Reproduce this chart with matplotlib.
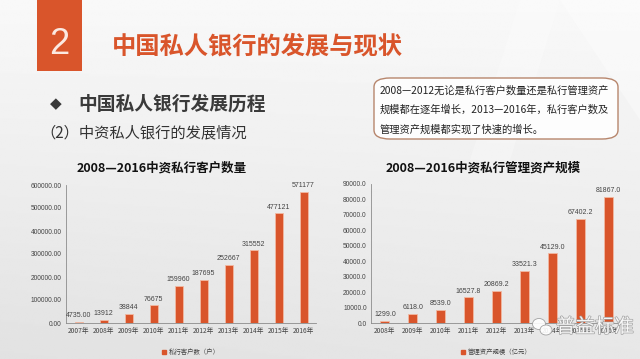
import matplotlib
matplotlib.use("Agg")
import matplotlib.pyplot as plt
import matplotlib.patheffects as pe
from matplotlib.patches import FancyBboxPatch, Rectangle, Polygon, Ellipse
import numpy as np

plt.rcParams['font.family'] = ['Noto Sans CJK SC', 'DejaVu Sans']

# data
cust_years = ["2007年", "2008年", "2009年", "2010年", "2011年", "2012年",
              "2013年", "2014年", "2015年", "2016年"]
cust_values = [4735, 13912, 38844, 76675, 159960, 187695, 252667, 315552, 477121, 571177]
asset_years = ["2008年", "2009年", "2010年", "2011年", "2012年", "2013年",
               "2014年", "2015年", "2016年"]
asset_values = [1299.0, 6118.0, 8539.0, 16527.8, 20869.2, 33521.3, 45129.0, 67402.2, 81867.0]

ORANGE = "#D9552B"
W, H = 640, 359

def fx(x):
    return x / W

def fy(y):
    return 1 - y / H

fig = plt.figure(figsize=(6.4, 3.59), dpi=100)

# background gradient
bg = fig.add_axes([0, 0, 1, 1])
bg.set_axis_off()
yy, xx = np.mgrid[0:1:200j, 0:1:300j]
img = 0.975 - 0.07 * yy - 0.02 * (1 - xx) * yy
bg.imshow(img, cmap="gray", vmin=0, vmax=1, extent=[0, 1, 0, 1], aspect="auto", origin="upper")
bg.add_patch(Polygon([[fx(560), 1], [fx(640), 1], [fx(640), fy(120)]],
                     closed=True, color="white", alpha=0.35, lw=0))
bg.add_patch(Polygon([[fx(470), fy(160)], [fx(520), 1], [fx(560), 1], [fx(510), fy(160)]],
                     closed=True, color="white", alpha=0.25, lw=0))
bg.set_xlim(0, 1)
bg.set_ylim(0, 1)

# header box with number
bg.add_patch(Rectangle((fx(37), fy(71)), fx(82) - fx(37), 71 / H, color=ORANGE, lw=0))
bg.text(fx(59.5), fy(44), "2", color="#FBE9E2", fontsize=26, ha="center", va="center",
        family=["Liberation Sans"], fontweight="light")
bg.text(fx(112), fy(46), "中国私人银行的发展与现状", color=ORANGE, fontsize=17.5,
        fontweight="bold", ha="left", va="center")

bg.text(fx(50), fy(104), "◆", color="#3A3A3A", fontsize=11, ha="left", va="center",
        family=["DejaVu Sans"])
bg.text(fx(78), fy(104), "中国私人银行发展历程", color="#3A3A3A", fontsize=13.5,
        fontweight="bold", ha="left", va="center")
bg.text(fx(40), fy(133), "（2）中资私人银行的发展情况", color="#333333", fontsize=11,
        ha="left", va="center")

# note box
bg.add_patch(FancyBboxPatch((fx(374), fy(139)), fx(618) - fx(374), (139 - 78) / H,
                            boxstyle="round,pad=0,rounding_size=0.025",
                            facecolor="white", edgecolor="#B07A5E", lw=1.0, alpha=0.9))
note_lines = ["2008—2012无论是私行客户数量还是私行管理资产",
              "规模都在逐年增长，2013—2016年，私行客户数及",
              "管理资产规模都实现了快速的增长。"]
for i, line in enumerate(note_lines):
    bg.text(fx(380), fy(91 + i * 19), line, color="#222222", fontsize=7.4,
            ha="left", va="center")

# chart titles
bg.text(fx(162), fy(168), "2008—2016中资私行客户数量", fontsize=9, fontweight="bold",
        color="#111111", ha="center", va="center")
bg.text(fx(483), fy(168), "2008—2016中资私行管理资产规模", fontsize=9, fontweight="bold",
        color="#111111", ha="center", va="center")


def bar_chart(rect, cats, vals, ymax, step, fmt, labels, legend_text):
    ax = fig.add_axes(rect)
    ax.set_facecolor("none")
    x = np.arange(len(cats))
    ax.bar(x, vals, width=0.32, color=ORANGE, edgecolor="#F2B9A2", linewidth=0.6)
    for xi, v, lab in zip(x, vals, labels):
        ax.text(xi, v + ymax * 0.02, lab, ha="center", va="bottom", fontsize=5,
                color="#444444", family=["Liberation Sans"])
    ax.set_xlim(-0.5, len(cats) - 0.5)
    ax.set_ylim(0, ymax)
    ax.set_yticks(np.arange(0, ymax + 1, step))
    ax.set_yticklabels([fmt % t for t in np.arange(0, ymax + 1, step)],
                       fontsize=4.8, color="#444444", family=["Liberation Sans"])
    ax.set_xticks(x)
    ax.set_xticklabels(cats, fontsize=4.8, color="#444444")
    ax.tick_params(length=0, pad=3)
    for s in ["top", "right"]:
        ax.spines[s].set_visible(False)
    ax.spines["left"].set_color("#8C8C8C")
    ax.spines["bottom"].set_color("#8C8C8C")
    ax.spines["left"].set_linewidth(0.6)
    ax.spines["bottom"].set_linewidth(0.6)
    h = Rectangle((0, 0), 1, 1, color=ORANGE)
    ax.legend([h], [legend_text], loc="upper center", bbox_to_anchor=(0.5, -0.14),
              frameon=False, fontsize=4.6, handlelength=0.6, handleheight=0.6,
              handletextpad=0.4, labelcolor="#444444")
    return ax


cust_labels = ["%.2f" % cust_values[0]] + ["%d" % v for v in cust_values[1:]]
bar_chart([fx(66), fy(323), fx(316) - fx(66), (323 - 185) / H], cust_years, cust_values,
          600000, 100000, "%.2f", cust_labels, "私行客户数（户）")

asset_labels = ["%.1f" % v for v in asset_values]
bar_chart([fx(371), fy(323), fx(622) - fx(371), (323 - 184) / H], asset_years, asset_values,
          90000, 10000, "%.1f", asset_labels, "管理资产规模（亿元）")

# watermark
wm = fig.add_axes([0, 0, 1, 1])
wm.set_axis_off()
wm.set_xlim(0, 1)
wm.set_ylim(0, 1)
wm.add_patch(Ellipse((fx(539), fy(324)), 13 / W, 11 / H, facecolor="white",
                     edgecolor="#999999", lw=0.6, alpha=0.9))
wm.add_patch(Ellipse((fx(546), fy(330)), 12 / W, 10 / H, facecolor="white",
                     edgecolor="#999999", lw=0.6, alpha=0.9))
wm.text(fx(556), fy(327), "普益标准", fontsize=14, color="white", ha="left", va="center",
        alpha=0.9, path_effects=[pe.withStroke(linewidth=1.0, foreground="#9A9A9A")])

fig.savefig("out.png", dpi=100)
